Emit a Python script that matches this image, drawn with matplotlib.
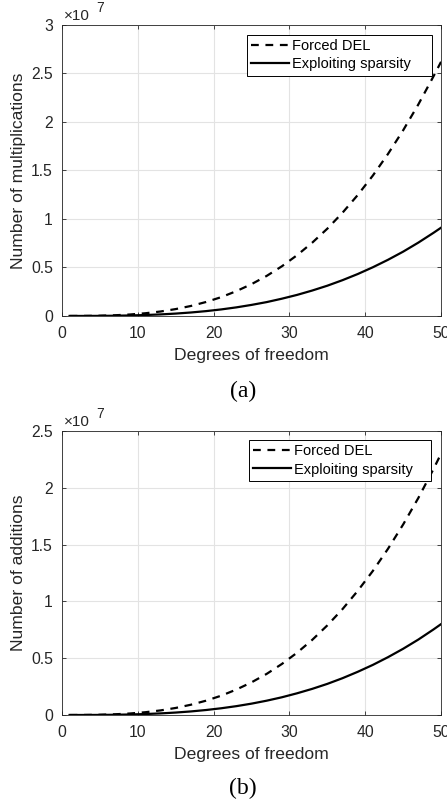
import numpy as np
import matplotlib.pyplot as plt

plt.rcParams['font.family'] = ['Liberation Sans', 'DejaVu Sans']
plt.rcParams['mathtext.default'] = 'regular'

dof = [1, 3, 5, 7, 9, 11, 13, 15, 17, 19, 21, 23, 25, 27, 29, 31, 33, 35,
       37, 39, 41, 43, 45, 47, 49, 50]

# Multiplications (x 1e7)
mult_forced = [0.0000, 0.0006, 0.0026, 0.0072, 0.0153, 0.028, 0.046, 0.071,
               0.103, 0.144, 0.194, 0.256, 0.328, 0.413, 0.512, 0.626, 0.755,
               0.900, 1.064, 1.246, 1.447, 1.670, 1.914, 2.180, 2.470, 2.620]
mult_sparse = [0.0000, 0.0002, 0.0009, 0.0025, 0.0053, 0.0097, 0.016, 0.0246,
               0.0358, 0.0499, 0.0674, 0.0886, 0.114, 0.143, 0.178, 0.217,
               0.262, 0.312, 0.369, 0.432, 0.502, 0.579, 0.663, 0.756, 0.857,
               0.910]

# Additions (x 1e7)
add_forced = [0.0000, 0.0005, 0.0023, 0.0063, 0.0134, 0.0245, 0.0404, 0.0621,
              0.0904, 0.126, 0.170, 0.224, 0.2875, 0.362, 0.449, 0.548, 0.661,
              0.789, 0.932, 1.092, 1.268, 1.463, 1.677, 1.910, 2.165, 2.300]
add_sparse = [0.0000, 0.0002, 0.0008, 0.0022, 0.0047, 0.0085, 0.0141, 0.0216,
              0.0314, 0.0439, 0.0593, 0.0779, 0.100, 0.126, 0.156, 0.191,
              0.230, 0.274, 0.324, 0.380, 0.441, 0.509, 0.583, 0.664, 0.753,
              0.800]

dark = '#262626'

fig = plt.figure(figsize=(4.47, 8.05), dpi=100)
ax_a = fig.add_axes([0.1387, 0.6075, 0.848, 0.3615])
ax_b = fig.add_axes([0.1387, 0.1118, 0.848, 0.3528])


def style_axis(ax, forced, sparse, ylabel, ymax, yticks, ytick_labels,
               tag, leg_box, tag_y):
    ax.plot(dof, forced, color='black', lw=1.6, linestyle=(0, (3.5, 3)),
            label='Forced DEL')
    ax.plot(dof, sparse, color='black', lw=1.6, label='Exploiting sparsity')
    ax.set_xlim(0, 50)
    ax.set_ylim(0, ymax)
    ax.set_xticks([0, 10, 20, 30, 40, 50])
    ax.set_yticks(yticks)
    ax.set_yticklabels(ytick_labels)
    ax.grid(True, color='#e3e3e3', lw=0.8)
    ax.set_axisbelow(True)
    ax.tick_params(direction='in', length=3, width=0.6, colors=dark,
                   labelsize=11.3, top=True, right=True)
    ax.tick_params(axis='x', pad=7)
    ax.tick_params(axis='y', pad=6.5)
    for sp in ax.spines.values():
        sp.set_color(dark)
        sp.set_linewidth(0.6)
    ax.set_xlabel('Degrees of freedom', fontsize=12.6, color=dark, labelpad=5)
    ax.set_ylabel(ylabel, fontsize=12.6, color=dark, labelpad=4)
    # exponent label, MATLAB style
    ax.annotate('\u00d710', xy=(0, 1), xycoords='axes fraction',
                xytext=(1.5, 1.5), textcoords='offset points',
                fontsize=11, color=dark, ha='left', va='bottom')
    ax.annotate('7', xy=(0, 1), xycoords='axes fraction',
                xytext=(25, 7.5), textcoords='offset points',
                fontsize=10, color=dark, ha='left', va='bottom')
    leg = ax.legend(loc='upper left', bbox_to_anchor=leg_box, mode='expand',
                    fontsize=10.5, fancybox=False, edgecolor='black',
                    framealpha=1, handlelength=2.6, handletextpad=0.2,
                    borderpad=0.3, labelspacing=0.28, borderaxespad=0)
    leg.get_frame().set_linewidth(0.7)
    ax.text(0.478, tag_y, tag, transform=ax.transAxes, fontsize=17,
            family='Liberation Serif', ha='center', va='center')


style_axis(ax_a, mult_forced, mult_sparse, 'Number of multiplications', 3,
           [0, 0.5, 1, 1.5, 2, 2.5, 3], ['0', '0.5', '1', '1.5', '2', '2.5', '3'],
           '(a)', (0.488, 0.5, 0.488, 0.4656), -0.258)
style_axis(ax_b, add_forced, add_sparse, 'Number of additions', 2.5,
           [0, 0.5, 1, 1.5, 2, 2.5], ['0', '0.5', '1', '1.5', '2', '2.5'],
           '(b)', (0.493, 0.5, 0.48, 0.468), -0.26)

fig.savefig('out.png', dpi=100)
